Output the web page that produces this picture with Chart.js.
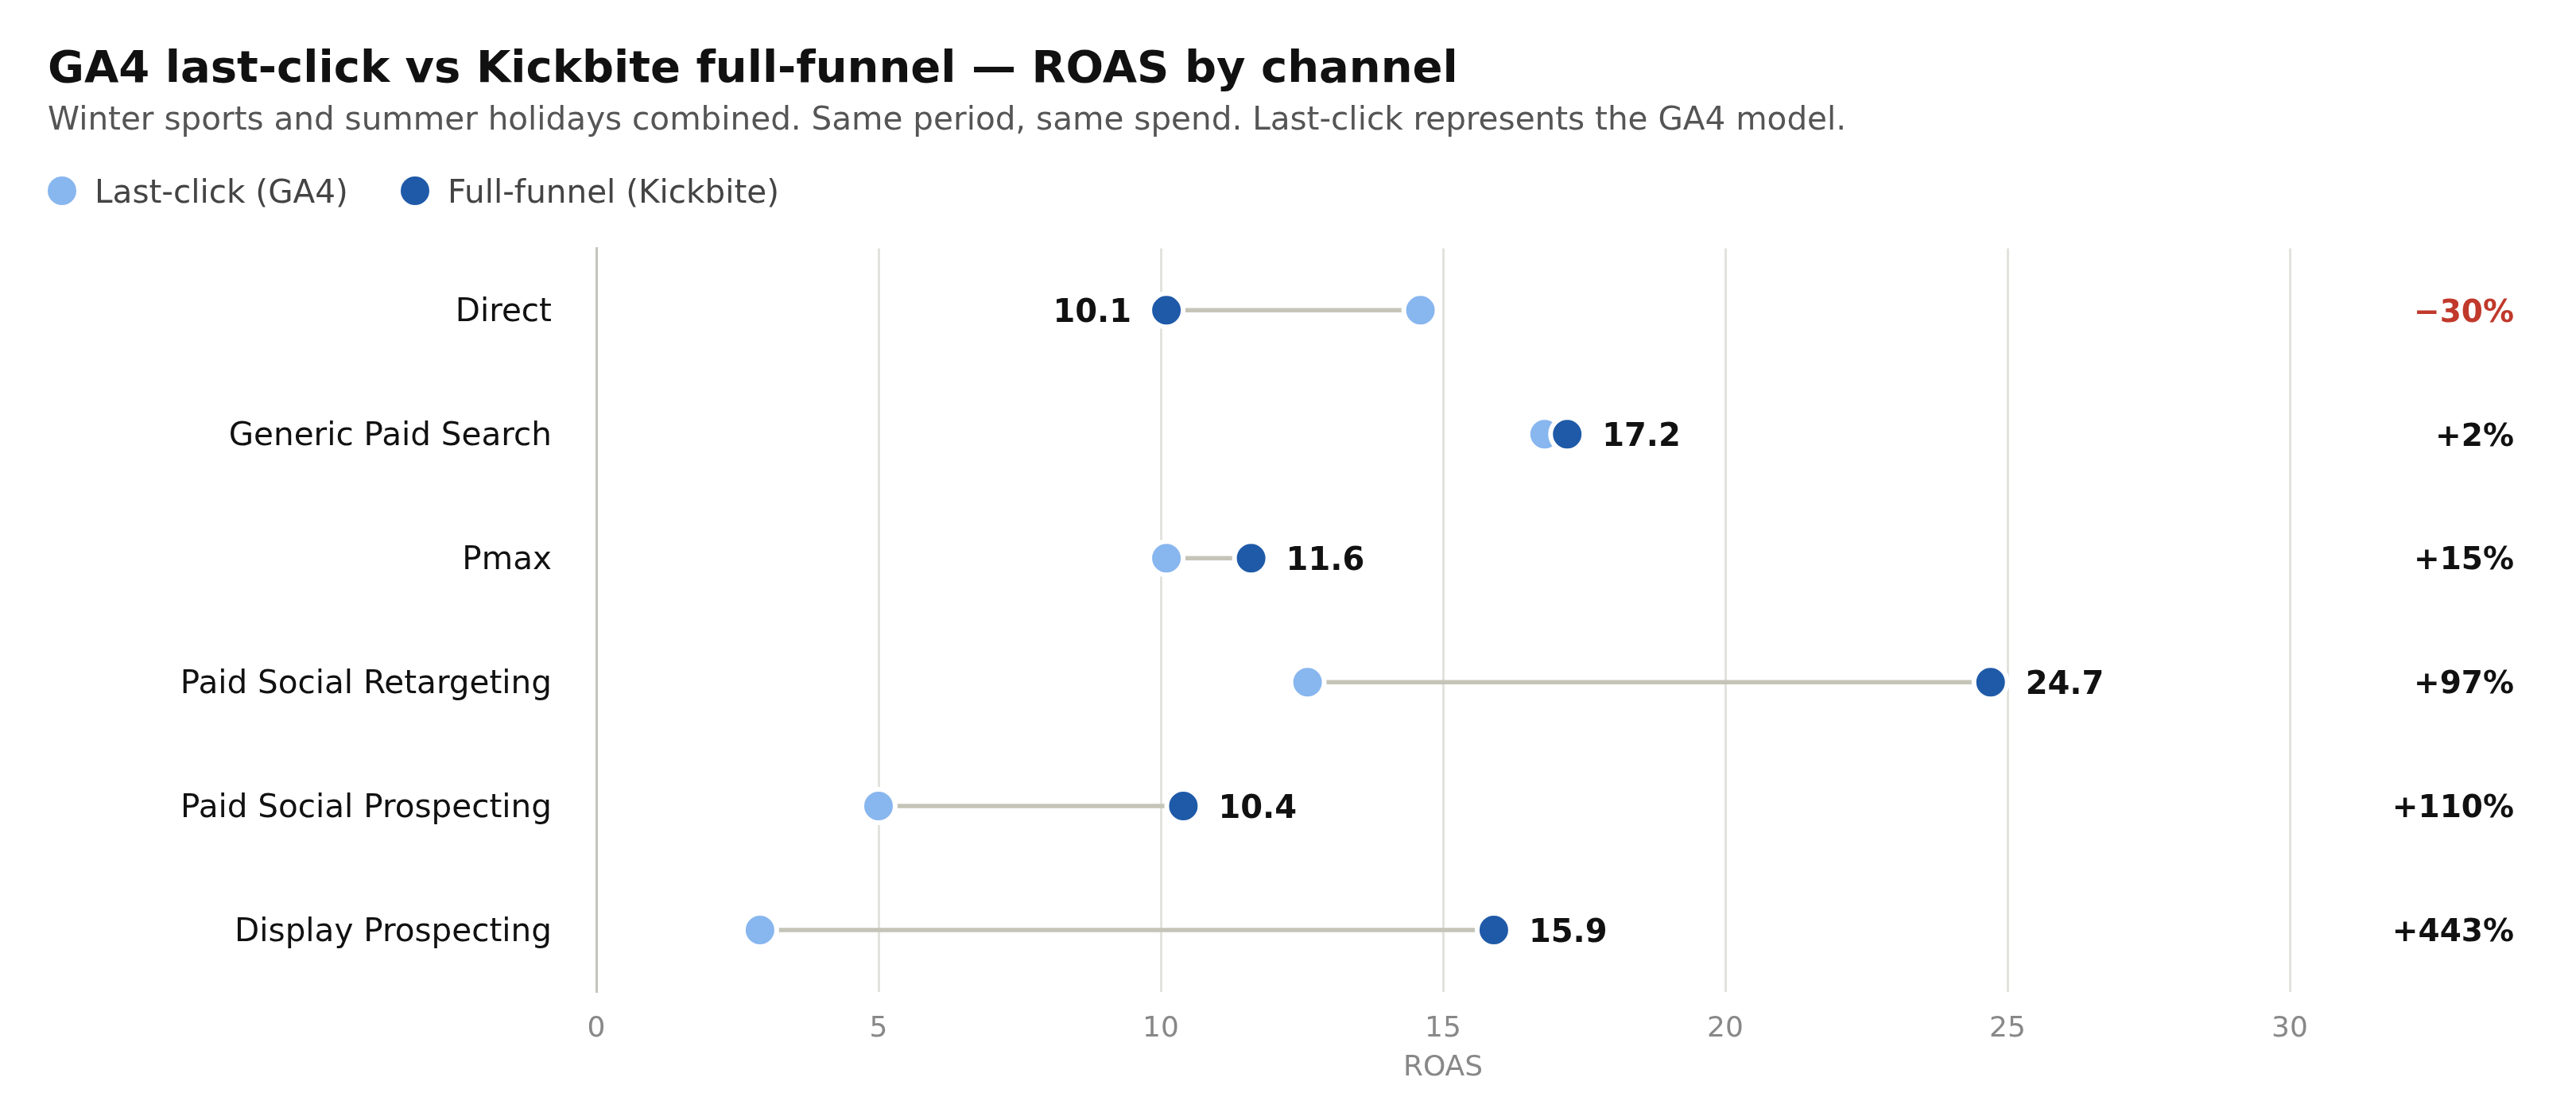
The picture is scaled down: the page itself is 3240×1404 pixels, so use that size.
<!DOCTYPE html>
<html>
<head>
<meta charset="utf-8">
<script src="https://cdn.jsdelivr.net/npm/chart.js@4.4.1/dist/chart.umd.min.js"></script>
<style>
  html, body { margin: 0; padding: 0; background: #ffffff; }
  #wrap { width: 3240px; height: 1404px; }
</style>
</head>
<body>
<div id="wrap"><canvas id="c" width="3240" height="1404"></canvas></div>
<script>
const channels = ['Direct', 'Generic Paid Search', 'Pmax', 'Paid Social Retargeting', 'Paid Social Prospecting', 'Display Prospecting'];
const lastClick = [14.6, 16.8, 10.1, 12.6, 5.0, 2.9];
const fullFunnel = [10.1, 17.2, 11.6, 24.7, 10.4, 15.9];
const changeLabels = ['\u221230%', '+2%', '+15%', '+97%', '+110%', '+443%'];
const seriesNames = ['Last-click (GA4)', 'Full-funnel (Kickbite)'];
const xTickValues = [0, 5, 10, 15, 20, 25, 30];

const LIGHT = '#88b6ef';
const DARK = '#1f5aa8';
const FONT = "'DejaVu Sans', 'Liberation Sans', sans-serif";
const CAP = 0.3645; // half cap-height of DejaVu Sans in em

const connectorPlugin = {
  id: 'connectors',
  beforeDatasetsDraw(chart) {
    const ctx = chart.ctx, xs = chart.scales.x, ys = chart.scales.y;
    ctx.save();
    ctx.strokeStyle = '#c4c4b8';
    ctx.lineWidth = 5.5;
    ctx.lineCap = 'butt';
    channels.forEach((c, i) => {
      const y = ys.getPixelForValue(i);
      ctx.beginPath();
      ctx.moveTo(xs.getPixelForValue(lastClick[i]), y);
      ctx.lineTo(xs.getPixelForValue(fullFunnel[i]), y);
      ctx.stroke();
    });
    ctx.restore();
  }
};

const labelPlugin = {
  id: 'valueLabels',
  afterDatasetsDraw(chart) {
    const ctx = chart.ctx, xs = chart.scales.x, ys = chart.scales.y;
    ctx.save();
    ctx.textBaseline = 'alphabetic';
    channels.forEach((c, i) => {
      const y = ys.getPixelForValue(i);
      const xf = xs.getPixelForValue(fullFunnel[i]);
      ctx.font = 'bold 40px ' + FONT;
      ctx.fillStyle = '#111111';
      const by = y + CAP * 40;
      if (fullFunnel[i] < lastClick[i]) {
        ctx.textAlign = 'right';
        ctx.fillText(fullFunnel[i].toFixed(1), xf - 44, by);
      } else {
        ctx.textAlign = 'left';
        ctx.fillText(fullFunnel[i].toFixed(1), xf + 44, by);
      }
      const lbl = changeLabels[i];
      ctx.font = 'bold 39px ' + FONT;
      ctx.textAlign = 'right';
      ctx.fillStyle = lbl.charAt(0) === '+' ? '#111111' : '#c0392b';
      ctx.fillText(lbl, chart.width - 78, y + CAP * 39);
    });
    ctx.restore();
  }
};

const legendPlugin = {
  id: 'customLegend',
  afterDraw(chart) {
    const ctx = chart.ctx;
    const items = [
      { text: seriesNames[0], color: LIGHT, cx: 78, tx: 119 },
      { text: seriesNames[1], color: DARK, cx: 522, tx: 563 }
    ];
    const cy = 240;
    ctx.save();
    ctx.font = '40.5px ' + FONT;
    ctx.textBaseline = 'alphabetic';
    ctx.textAlign = 'left';
    items.forEach(it => {
      ctx.beginPath();
      ctx.arc(it.cx, cy, 18, 0, Math.PI * 2);
      ctx.fillStyle = it.color;
      ctx.fill();
      ctx.fillStyle = '#444444';
      ctx.fillText(it.text, it.tx, cy + CAP * 40.5);
    });
    ctx.restore();
  }
};

new Chart(document.getElementById('c'), {
  type: 'scatter',
  data: {
    labels: channels,
    datasets: [
      {
        label: seriesNames[0],
        data: channels.map((c, i) => ({ x: lastClick[i], y: c })),
        backgroundColor: LIGHT,
        borderColor: '#ffffff',
        borderWidth: 6,
        pointRadius: 21,
        pointHoverRadius: 21,
        order: 1
      },
      {
        label: seriesNames[1],
        data: channels.map((c, i) => ({ x: fullFunnel[i], y: c })),
        backgroundColor: DARK,
        borderColor: '#ffffff',
        borderWidth: 6,
        pointRadius: 21,
        pointHoverRadius: 21,
        order: 0
      }
    ]
  },
  options: {
    responsive: false,
    devicePixelRatio: 1,
    animation: false,
    events: [],
    layout: { padding: { left: 60, right: 360, top: 0, bottom: 39 } },
    scales: {
      x: {
        type: 'linear',
        min: 0,
        max: 30,
        afterBuildTicks(scale) { scale.ticks = xTickValues.map(v => ({ value: v })); },
        afterFit(scale) { scale.height = 117; },
        ticks: { color: '#888888', font: { family: FONT, size: 36 }, padding: 25 },
        grid: { color: '#e2e2de', lineWidth: 3, drawTicks: false },
        border: { display: false },
        title: { display: true, text: 'ROAS', color: '#888888', font: { family: FONT, size: 36 }, padding: { top: 5, bottom: 0 } }
      },
      y: {
        type: 'category',
        labels: channels,
        offset: true,
        afterFit(scale) { scale.width = 690; },
        ticks: { color: '#111111', font: { family: FONT, size: 40.5 }, padding: 56, labelOffset: 3 },
        grid: { display: false, drawTicks: false },
        border: { display: true, color: '#c4c4bc', width: 3 }
      }
    },
    plugins: {
      legend: { display: false },
      tooltip: { enabled: false },
      title: {
        display: true,
        text: 'GA4 last-click vs Kickbite full-funnel \u2014 ROAS by channel',
        align: 'start',
        color: '#111111',
        font: { family: FONT, size: 56, weight: 'bold' },
        padding: { top: 55, bottom: 0 }
      },
      subtitle: {
        display: true,
        text: 'Winter sports and summer holidays combined. Same period, same spend. Last-click represents the GA4 model.',
        align: 'start',
        color: '#555555',
        font: { family: FONT, size: 40.5 },
        padding: { top: 6, bottom: 135.6 }
      }
    }
  },
  plugins: [connectorPlugin, labelPlugin, legendPlugin]
});
</script>
</body>
</html>
